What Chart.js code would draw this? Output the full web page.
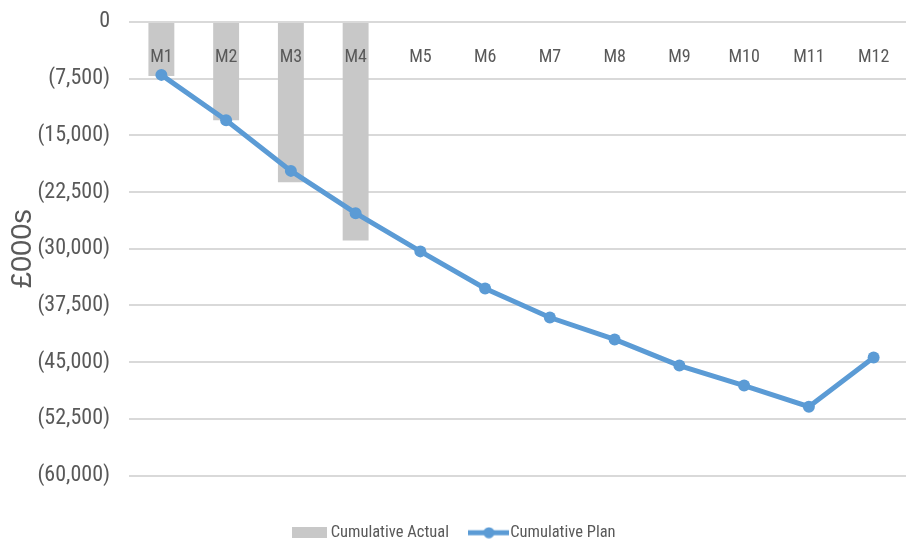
<!DOCTYPE html>
<html>
<head>
<meta charset="utf-8">
<script src="https://cdn.jsdelivr.net/npm/chart.js@4/dist/chart.umd.min.js"></script>
<style>
  html, body { margin: 0; padding: 0; background: #ffffff; }
  #wrap { width: 912px; height: 541px; }
</style>
</head>
<body>
<div id="wrap"><canvas id="chart"></canvas></div>
<script>
// Months of the year
const months = ['M1', 'M2', 'M3', 'M4', 'M5', 'M6', 'M7', 'M8', 'M9', 'M10', 'M11', 'M12'];

// Cumulative actual spend to date (£000s)
const cumulativeActual = [-7150, -13000, -21200, -28900, null, null, null, null, null, null, null, null];

// Cumulative planned spend (£000s)
const cumulativePlan = [-7000, -13000, -19700, -25300, -30350, -35250, -39100, -42000, -45450, -48100, -50900, -44400];

// Value axis
const axisMin = -60000;
const axisMax = 0;
const axisStep = 7500;

const textColor = '#595959';
const narrowFont = "'Liberation Sans Narrow', 'Roboto Condensed', 'DejaVu Sans Condensed', Roboto, sans-serif";

// Legend swatches: a grey block and a line with a dot
function makeBoxSwatch() {
  const c = document.createElement('canvas');
  c.width = 35; c.height = 11;
  const g = c.getContext('2d');
  g.fillStyle = '#c8c8c8';
  g.fillRect(0, 0, 35, 11);
  return c;
}
function makeLineSwatch() {
  const c = document.createElement('canvas');
  c.width = 41; c.height = 12;
  const g = c.getContext('2d');
  g.strokeStyle = '#5b9bd5';
  g.lineWidth = 5;
  g.beginPath(); g.moveTo(0, 6); g.lineTo(41, 6); g.stroke();
  g.fillStyle = '#5b9bd5';
  g.beginPath(); g.arc(20.5, 6, 5.5, 0, Math.PI * 2); g.fill();
  return c;
}
const swatches = [makeBoxSwatch(), makeLineSwatch()];

// Keep the legend block snug against the bottom edge
const legendFitPlugin = {
  id: 'legendFit',
  afterInit(chart) {
    const legend = chart.legend;
    if (!legend) return;
    const fit = legend.fit.bind(legend);
    legend.fit = function () { fit(); this.height -= 10; };
  }
};

new Chart(document.getElementById('chart'), {
  data: {
    labels: months,
    datasets: [
      {
        type: 'bar',
        label: 'Cumulative Actual',
        data: cumulativeActual,
        backgroundColor: '#c8c8c8',
        borderWidth: 0,
        categoryPercentage: 1,
        barPercentage: 0.4,
        order: 2
      },
      {
        type: 'line',
        label: 'Cumulative Plan',
        data: cumulativePlan,
        borderColor: '#5b9bd5',
        backgroundColor: '#5b9bd5',
        borderWidth: 5,
        pointRadius: 6,
        pointHoverRadius: 6,
        pointBackgroundColor: '#5b9bd5',
        pointBorderWidth: 0,
        tension: 0,
        fill: false,
        order: 1
      }
    ]
  },
  plugins: [legendFitPlugin],
  options: {
    responsive: true,
    maintainAspectRatio: false,
    animation: false,
    devicePixelRatio: 1,
    layout: { padding: { top: 0, right: 0, bottom: 0, left: 0 } },
    plugins: {
      tooltip: { enabled: false },
      legend: {
        position: 'bottom',
        title: { display: true, text: '', font: { size: 10 }, padding: { top: 10, bottom: 0 } },
        labels: {
          usePointStyle: true,
          pointStyleWidth: 26,
          padding: 27,
          color: textColor,
          font: { family: narrowFont, size: 16.5 },
          generateLabels(chart) {
            const items = Chart.defaults.plugins.legend.labels.generateLabels(chart);
            items.sort((a, b) => a.datasetIndex - b.datasetIndex);
            items.forEach(it => { it.pointStyle = swatches[it.datasetIndex]; });
            return items;
          }
        }
      }
    },
    scales: {
      x: {
        type: 'category',
        position: { y: 0 },
        grid: { display: false },
        border: { display: false },
        ticks: {
          z: 1,
          color: textColor,
          padding: 17,
          font: { family: narrowFont, size: 18 },
          maxRotation: 0,
          autoSkip: false
        }
      },
      y: {
        type: 'linear',
        min: axisMin,
        max: axisMax,
        afterFit(scale) { scale.width = 129; },
        grid: { color: '#d9d9d9', lineWidth: 2, drawTicks: false },
        border: { display: false },
        title: {
          display: true,
          text: '£000s',
          color: textColor,
          padding: { top: 6, bottom: 0 },
          font: { family: "'Liberation Sans', sans-serif", size: 29 }
        },
        ticks: {
          stepSize: axisStep,
          color: textColor,
          padding: 19,
          font: { family: narrowFont, size: 22, lineHeight: 0.27 },
          callback(v) {
            if (v === 0) return '0';
            return '(' + Math.abs(v).toLocaleString('en-US') + ')';
          }
        }
      }
    }
  }
});
</script>
</body>
</html>
